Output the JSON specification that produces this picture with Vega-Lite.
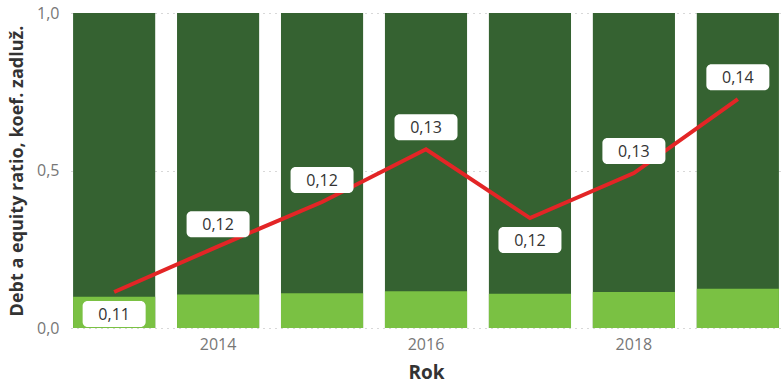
{
  "$schema": "https://vega.github.io/schema/vega-lite/v6.json",
  "width": 710,
  "height": 315,
  "autosize": {"type": "none"},
  "padding": {"left": 71, "top": 13, "right": 0, "bottom": 57},
  "config": {
    "font": "Open Sans",
    "view": {"stroke": null},
    "locale": {"number": {"decimal": ",", "thousands": " ", "grouping": [3], "currency": ["", " Kč"]}}
  },
  "data": {"values": [
    {"Rok": 2013, "podil": 0.099, "ratio": 0.1101},
    {"Rok": 2014, "podil": 0.106, "ratio": 0.1172},
    {"Rok": 2015, "podil": 0.110, "ratio": 0.1241},
    {"Rok": 2016, "podil": 0.117, "ratio": 0.1323},
    {"Rok": 2017, "podil": 0.109, "ratio": 0.1216},
    {"Rok": 2018, "podil": 0.114, "ratio": 0.1286},
    {"Rok": 2019, "podil": 0.125, "ratio": 0.1401}
  ]},
  "encoding": {
    "x": {
      "field": "Rok", "type": "ordinal",
      "scale": {"paddingInner": 0.21, "paddingOuter": 0.02},
      "axis": {
        "title": "Rok", "labelAngle": 0, "ticks": false, "domain": false, "grid": false,
        "labelExpr": "datum.value % 2 == 0 ? datum.label : ''",
        "labelFontSize": 16, "labelColor": "#777777", "labelPadding": 8,
        "titleFontSize": 19, "titleFontWeight": "bold", "titleColor": "#333333", "titlePadding": 11
      }
    }
  },
  "layer": [
    {
      "layer": [
        {
          "mark": {"type": "bar", "color": "#356231"},
          "encoding": {
            "y": {
              "datum": 1, "type": "quantitative",
              "scale": {"domain": [0, 1]},
              "axis": {
                "values": [0, 0.5, 1], "format": ".1f",
                "title": "Debt a equity ratio, koef. zadluž.",
                "grid": true, "gridDash": [1, 5], "gridColor": "#b0b0b0", "gridWidth": 1,
                "domain": false, "ticks": false,
                "labelColor": "#777777", "labelFontSize": 16, "labelPadding": 12,
                "titleFontSize": 18, "titleFontWeight": "bold", "titleColor": "#333333", "titlePadding": 10
              }
            }
          }
        },
        {
          "mark": {"type": "bar", "color": "#7AC143"},
          "encoding": {"y": {"field": "podil", "type": "quantitative"}}
        }
      ]
    },
    {
      "layer": [
        {
          "mark": {"type": "line", "color": "#E32526", "strokeWidth": 4},
          "encoding": {"y": {"field": "ratio", "type": "quantitative", "scale": {"domain": [0.1045, 0.1535]}, "axis": null}}
        },
        {
          "mark": {
            "type": "point",
            "shape": "M-0.841,-0.413H0.841A0.159,0.159,0,0,1,1,-0.254V0.254A0.159,0.159,0,0,1,0.841,0.413H-0.841A0.159,0.159,0,0,1,-1,0.254V-0.254A0.159,0.159,0,0,1,-0.841,-0.413Z",
            "size": 3969, "filled": true, "fill": "#ffffff", "opacity": 1, "strokeWidth": 0,
            "yOffset": {"expr": "datum.Rok == 2013 || datum.Rok == 2017 ? 22 : -22"}
          },
          "encoding": {"y": {"field": "ratio", "type": "quantitative", "scale": {"domain": [0.1045, 0.1535]}, "axis": null}}
        },
        {
          "mark": {
            "type": "text", "fontSize": 16, "color": "#333333", "baseline": "middle",
            "yOffset": {"expr": "datum.Rok == 2013 || datum.Rok == 2017 ? 23 : -21"}
          },
          "encoding": {
            "y": {"field": "ratio", "type": "quantitative", "scale": {"domain": [0.1045, 0.1535]}, "axis": null},
            "text": {"field": "ratio", "type": "quantitative", "format": ".2f"}
          }
        }
      ]
    }
  ],
  "resolve": {"scale": {"y": "independent"}}
}
